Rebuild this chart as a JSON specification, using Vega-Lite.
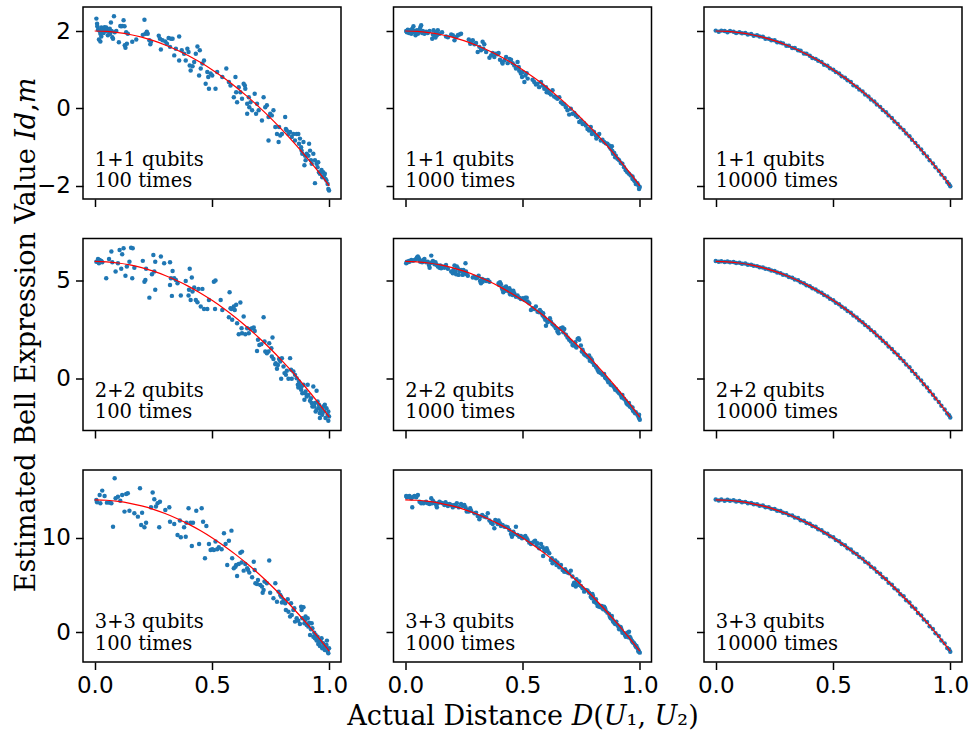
{
"$schema": "https://vega.github.io/schema/vega-lite/v6.json",
"background": "white",
"padding": {"left": 12, "top": 6, "right": 6, "bottom": 4},
"config": {
  "view": {"stroke": "black", "strokeWidth": 1.5},
  "axis": {"domain": false, "grid": false, "tickColor": "black", "tickSize": 7.5, "tickWidth": 1.5, "labelFont": "DejaVu Sans", "labelFontSize": 23, "labelColor": "black", "labelPadding": 5, "titleFont": "DejaVu Serif", "titleFontSize": 27, "titleFontWeight": "normal", "titleColor": "black"}
},
"datasets": {
"fit1": [{"x":0,"y":2},{"x":0.05,"y":1.99},{"x":0.1,"y":1.96},{"x":0.15,"y":1.91},{"x":0.2,"y":1.84},{"x":0.25,"y":1.75},{"x":0.3,"y":1.64},{"x":0.35,"y":1.51},{"x":0.4,"y":1.36},{"x":0.45,"y":1.19},{"x":0.5,"y":1.0},{"x":0.55,"y":0.79},{"x":0.6,"y":0.56},{"x":0.65,"y":0.31},{"x":0.7,"y":0.04},{"x":0.75,"y":-0.25},{"x":0.8,"y":-0.56},{"x":0.85,"y":-0.89},{"x":0.9,"y":-1.24},{"x":0.95,"y":-1.61},{"x":1,"y":-2}],
"fit2": [{"x":0,"y":6},{"x":0.05,"y":5.98},{"x":0.1,"y":5.92},{"x":0.15,"y":5.82},{"x":0.2,"y":5.68},{"x":0.25,"y":5.5},{"x":0.3,"y":5.28},{"x":0.35,"y":5.02},{"x":0.4,"y":4.72},{"x":0.45,"y":4.38},{"x":0.5,"y":4.0},{"x":0.55,"y":3.58},{"x":0.6,"y":3.12},{"x":0.65,"y":2.62},{"x":0.7,"y":2.08},{"x":0.75,"y":1.5},{"x":0.8,"y":0.88},{"x":0.85,"y":0.22},{"x":0.9,"y":-0.48},{"x":0.95,"y":-1.22},{"x":1,"y":-2}],
"fit3": [{"x":0,"y":14},{"x":0.05,"y":13.96},{"x":0.1,"y":13.84},{"x":0.15,"y":13.64},{"x":0.2,"y":13.36},{"x":0.25,"y":13},{"x":0.3,"y":12.56},{"x":0.35,"y":12.04},{"x":0.4,"y":11.44},{"x":0.45,"y":10.76},{"x":0.5,"y":10},{"x":0.55,"y":9.16},{"x":0.6,"y":8.24},{"x":0.65,"y":7.24},{"x":0.7,"y":6.16},{"x":0.75,"y":5},{"x":0.8,"y":3.76},{"x":0.85,"y":2.44},{"x":0.9,"y":1.04},{"x":0.95,"y":-0.44},{"x":1,"y":-2}],
"r1c1": [{"x":0.007,"y":2.32},{"x":0.010,"y":2.19},{"x":0.011,"y":2.12},{"x":0.014,"y":2.03},{"x":0.021,"y":2.00},{"x":0.024,"y":1.93},{"x":0.028,"y":2.09},{"x":0.032,"y":2.05},{"x":0.035,"y":2.02},{"x":0.038,"y":1.95},{"x":0.018,"y":1.78},{"x":0.024,"y":1.73},{"x":0.028,"y":1.86},{"x":0.042,"y":2.10},{"x":0.047,"y":2.00},{"x":0.049,"y":2.09},{"x":0.052,"y":2.03},{"x":0.056,"y":1.89},{"x":0.061,"y":1.99},{"x":0.064,"y":2.06},{"x":0.066,"y":1.93},{"x":0.069,"y":2.22},{"x":0.072,"y":2.00},{"x":0.075,"y":1.84},{"x":0.078,"y":1.80},{"x":0.082,"y":2.38},{"x":0.085,"y":1.97},{"x":0.092,"y":2.00},{"x":0.103,"y":1.71},{"x":0.109,"y":2.13},{"x":0.113,"y":2.12},{"x":0.117,"y":2.13},{"x":0.123,"y":2.28},{"x":0.127,"y":2.12},{"x":0.128,"y":1.63},{"x":0.131,"y":1.57},{"x":0.137,"y":1.67},{"x":0.134,"y":1.97},{"x":0.141,"y":1.93},{"x":0.160,"y":1.72},{"x":0.177,"y":1.78},{"x":0.205,"y":1.90},{"x":0.212,"y":2.29},{"x":0.216,"y":1.93},{"x":0.222,"y":1.98},{"x":0.226,"y":1.93},{"x":0.233,"y":1.76},{"x":0.237,"y":1.66},{"x":0.240,"y":1.72},{"x":0.273,"y":1.88},{"x":0.278,"y":1.80},{"x":0.282,"y":1.52},{"x":0.289,"y":1.76},{"x":0.301,"y":1.73},{"x":0.308,"y":1.67},{"x":0.315,"y":1.82},{"x":0.321,"y":1.59},{"x":0.325,"y":1.80},{"x":0.332,"y":1.80},{"x":0.339,"y":1.37},{"x":0.346,"y":1.54},{"x":0.360,"y":1.86},{"x":0.360,"y":1.24},{"x":0.371,"y":1.50},{"x":0.381,"y":1.41},{"x":0.388,"y":1.24},{"x":0.395,"y":1.54},{"x":0.400,"y":1.46},{"x":0.405,"y":1.11},{"x":0.409,"y":0.98},{"x":0.417,"y":1.09},{"x":0.424,"y":1.20},{"x":0.431,"y":1.41},{"x":0.438,"y":1.60},{"x":0.445,"y":0.85},{"x":0.448,"y":1.50},{"x":0.452,"y":1.03},{"x":0.459,"y":1.16},{"x":0.466,"y":1.24},{"x":0.473,"y":0.64},{"x":0.480,"y":0.94},{"x":0.484,"y":0.81},{"x":0.487,"y":0.51},{"x":0.494,"y":0.90},{"x":0.501,"y":0.85},{"x":0.515,"y":0.51},{"x":0.522,"y":0.94},{"x":0.544,"y":0.81},{"x":0.561,"y":1.03},{"x":0.572,"y":0.68},{"x":0.579,"y":0.59},{"x":0.593,"y":0.29},{"x":0.600,"y":0.81},{"x":0.603,"y":0.42},{"x":0.607,"y":0.16},{"x":0.614,"y":0.55},{"x":0.621,"y":0.42},{"x":0.628,"y":0.25},{"x":0.635,"y":0.64},{"x":0.640,"y":0.59},{"x":0.642,"y":0.51},{"x":0.650,"y":0.12},{"x":0.650,"y":-0.14},{"x":0.657,"y":0.29},{"x":0.659,"y":0.03},{"x":0.664,"y":0.16},{"x":0.671,"y":-0.05},{"x":0.682,"y":0.38},{"x":0.688,"y":-0.14},{"x":0.692,"y":0.12},{"x":0.699,"y":-0.05},{"x":0.713,"y":-0.31},{"x":0.720,"y":0.29},{"x":0.727,"y":0.03},{"x":0.734,"y":0.08},{"x":0.741,"y":-0.22},{"x":0.741,"y":-0.83},{"x":0.748,"y":-0.14},{"x":0.755,"y":-0.18},{"x":0.762,"y":-0.05},{"x":0.770,"y":-0.48},{"x":0.777,"y":-0.66},{"x":0.784,"y":-0.87},{"x":0.786,"y":-0.48},{"x":0.791,"y":-0.70},{"x":0.798,"y":-0.66},{"x":0.812,"y":-0.22},{"x":0.815,"y":-0.53},{"x":0.819,"y":-0.57},{"x":0.826,"y":-0.66},{"x":0.833,"y":-0.61},{"x":0.840,"y":-0.74},{"x":0.847,"y":-0.66},{"x":0.854,"y":-0.83},{"x":0.861,"y":-0.66},{"x":0.868,"y":-0.66},{"x":0.871,"y":-0.91},{"x":0.875,"y":-0.78},{"x":0.880,"y":-1.00},{"x":0.882,"y":-1.09},{"x":0.885,"y":-1.17},{"x":0.890,"y":-0.87},{"x":0.894,"y":-1.47},{"x":0.897,"y":-1.22},{"x":0.899,"y":-1.34},{"x":0.904,"y":-1.17},{"x":0.911,"y":-1.22},{"x":0.914,"y":-0.91},{"x":0.918,"y":-1.09},{"x":0.922,"y":-1.34},{"x":0.925,"y":-1.43},{"x":0.932,"y":-1.17},{"x":0.939,"y":-1.34},{"x":0.946,"y":-1.43},{"x":0.950,"y":-1.52},{"x":0.953,"y":-1.39},{"x":0.956,"y":-1.65},{"x":0.960,"y":-1.69},{"x":0.967,"y":-1.59},{"x":0.970,"y":-1.78},{"x":0.974,"y":-1.65},{"x":0.978,"y":-1.73},{"x":0.981,"y":-1.69},{"x":0.984,"y":-1.82},{"x":0.988,"y":-1.86},{"x":0.993,"y":-1.95},{"x":0.996,"y":-2.08},{"x":0.999,"y":-2.12},{"x":0.939,"y":-1.93}],
"r2c1": [{"x":0.007,"y":5.99},{"x":0.014,"y":6.13},{"x":0.018,"y":5.91},{"x":0.021,"y":6.08},{"x":0.024,"y":5.99},{"x":0.028,"y":6.03},{"x":0.032,"y":5.96},{"x":0.049,"y":5.14},{"x":0.061,"y":6.13},{"x":0.071,"y":6.51},{"x":0.075,"y":5.96},{"x":0.089,"y":5.48},{"x":0.099,"y":5.91},{"x":0.106,"y":6.59},{"x":0.113,"y":5.62},{"x":0.117,"y":6.37},{"x":0.123,"y":6.68},{"x":0.131,"y":5.27},{"x":0.137,"y":5.74},{"x":0.148,"y":5.99},{"x":0.155,"y":6.71},{"x":0.160,"y":5.14},{"x":0.162,"y":6.68},{"x":0.169,"y":5.68},{"x":0.205,"y":6.03},{"x":0.212,"y":4.96},{"x":0.216,"y":5.05},{"x":0.219,"y":5.62},{"x":0.233,"y":4.14},{"x":0.244,"y":5.34},{"x":0.250,"y":6.33},{"x":0.254,"y":5.48},{"x":0.258,"y":5.99},{"x":0.258,"y":4.54},{"x":0.282,"y":6.25},{"x":0.296,"y":5.91},{"x":0.321,"y":5.96},{"x":0.321,"y":4.79},{"x":0.325,"y":5.14},{"x":0.329,"y":4.23},{"x":0.332,"y":5.51},{"x":0.339,"y":5.14},{"x":0.346,"y":5.05},{"x":0.353,"y":4.88},{"x":0.367,"y":4.25},{"x":0.388,"y":5.00},{"x":0.400,"y":4.25},{"x":0.402,"y":4.54},{"x":0.405,"y":5.62},{"x":0.409,"y":4.02},{"x":0.414,"y":5.17},{"x":0.417,"y":4.45},{"x":0.424,"y":4.66},{"x":0.431,"y":4.02},{"x":0.438,"y":3.90},{"x":0.442,"y":4.59},{"x":0.452,"y":3.68},{"x":0.459,"y":4.59},{"x":0.466,"y":3.56},{"x":0.480,"y":3.56},{"x":0.487,"y":4.02},{"x":0.508,"y":4.96},{"x":0.513,"y":3.56},{"x":0.515,"y":5.02},{"x":0.537,"y":4.02},{"x":0.544,"y":3.51},{"x":0.572,"y":3.13},{"x":0.575,"y":4.42},{"x":0.579,"y":3.60},{"x":0.583,"y":3.56},{"x":0.586,"y":3.00},{"x":0.593,"y":3.68},{"x":0.597,"y":3.51},{"x":0.603,"y":3.77},{"x":0.607,"y":2.82},{"x":0.614,"y":2.26},{"x":0.621,"y":3.89},{"x":0.626,"y":2.57},{"x":0.628,"y":2.31},{"x":0.635,"y":3.17},{"x":0.642,"y":2.26},{"x":0.650,"y":2.57},{"x":0.657,"y":2.31},{"x":0.664,"y":2.53},{"x":0.671,"y":2.57},{"x":0.678,"y":2.60},{"x":0.682,"y":2.43},{"x":0.692,"y":1.40},{"x":0.696,"y":1.97},{"x":0.702,"y":1.71},{"x":0.710,"y":1.75},{"x":0.720,"y":3.13},{"x":0.724,"y":1.88},{"x":0.727,"y":1.37},{"x":0.734,"y":1.28},{"x":0.741,"y":1.37},{"x":0.744,"y":1.80},{"x":0.753,"y":1.54},{"x":0.755,"y":1.11},{"x":0.758,"y":2.09},{"x":0.762,"y":0.99},{"x":0.770,"y":0.72},{"x":0.772,"y":0.77},{"x":0.777,"y":0.48},{"x":0.781,"y":0.68},{"x":0.786,"y":0.99},{"x":0.791,"y":0.86},{"x":0.795,"y":-0.03},{"x":0.798,"y":1.03},{"x":0.805,"y":0.60},{"x":0.809,"y":0.26},{"x":0.815,"y":0.17},{"x":0.819,"y":0.38},{"x":0.826,"y":-0.03},{"x":0.833,"y":1.03},{"x":0.837,"y":0.43},{"x":0.840,"y":-0.03},{"x":0.847,"y":0.34},{"x":0.854,"y":0.17},{"x":0.861,"y":0.00},{"x":0.866,"y":-0.34},{"x":0.868,"y":-0.48},{"x":0.871,"y":-0.17},{"x":0.875,"y":-0.34},{"x":0.880,"y":-0.60},{"x":0.882,"y":-0.43},{"x":0.885,"y":-0.77},{"x":0.890,"y":-0.34},{"x":0.894,"y":-1.11},{"x":0.897,"y":-0.77},{"x":0.899,"y":-0.68},{"x":0.904,"y":-0.94},{"x":0.908,"y":-0.34},{"x":0.911,"y":-0.86},{"x":0.918,"y":-1.16},{"x":0.922,"y":-1.03},{"x":0.925,"y":-1.28},{"x":0.928,"y":-1.46},{"x":0.932,"y":-0.43},{"x":0.936,"y":-1.46},{"x":0.939,"y":-1.28},{"x":0.942,"y":-1.71},{"x":0.946,"y":-0.65},{"x":0.950,"y":-1.20},{"x":0.953,"y":-1.54},{"x":0.956,"y":-1.37},{"x":0.960,"y":-1.80},{"x":0.964,"y":-1.71},{"x":0.967,"y":-1.54},{"x":0.970,"y":-1.88},{"x":0.974,"y":-1.46},{"x":0.978,"y":-1.71},{"x":0.981,"y":-1.37},{"x":0.984,"y":-2.05},{"x":0.988,"y":-1.54},{"x":0.993,"y":-1.88},{"x":0.996,"y":-2.19},{"x":0.999,"y":-1.97},{"x":0.946,"y":-1.63},{"x":0.960,"y":-2.05},{"x":0.996,"y":-1.71}],
"r3c1": [{"x":0.007,"y":13.99},{"x":0.010,"y":13.74},{"x":0.021,"y":14.52},{"x":0.024,"y":13.64},{"x":0.032,"y":14.98},{"x":0.042,"y":14.41},{"x":0.052,"y":13.71},{"x":0.064,"y":13.71},{"x":0.071,"y":13.64},{"x":0.078,"y":11.17},{"x":0.085,"y":16.28},{"x":0.089,"y":14.17},{"x":0.099,"y":14.34},{"x":0.109,"y":13.92},{"x":0.117,"y":14.52},{"x":0.127,"y":12.76},{"x":0.134,"y":14.62},{"x":0.141,"y":14.70},{"x":0.148,"y":12.86},{"x":0.169,"y":12.58},{"x":0.184,"y":12.23},{"x":0.193,"y":15.22},{"x":0.198,"y":11.35},{"x":0.202,"y":12.65},{"x":0.212,"y":11.10},{"x":0.219,"y":11.59},{"x":0.240,"y":13.22},{"x":0.247,"y":14.77},{"x":0.254,"y":14.06},{"x":0.261,"y":13.29},{"x":0.268,"y":13.64},{"x":0.275,"y":11.10},{"x":0.278,"y":13.81},{"x":0.301,"y":12.93},{"x":0.318,"y":13.22},{"x":0.321,"y":11.70},{"x":0.339,"y":11.45},{"x":0.353,"y":10.29},{"x":0.363,"y":11.81},{"x":0.367,"y":10.04},{"x":0.381,"y":11.10},{"x":0.388,"y":10.11},{"x":0.391,"y":11.59},{"x":0.400,"y":13.11},{"x":0.409,"y":11.59},{"x":0.414,"y":9.13},{"x":0.419,"y":11.59},{"x":0.433,"y":12.86},{"x":0.445,"y":9.34},{"x":0.456,"y":13.11},{"x":0.462,"y":11.70},{"x":0.470,"y":7.82},{"x":0.476,"y":11.24},{"x":0.487,"y":9.34},{"x":0.494,"y":8.70},{"x":0.501,"y":8.77},{"x":0.508,"y":8.70},{"x":0.515,"y":9.59},{"x":0.522,"y":8.77},{"x":0.529,"y":8.99},{"x":0.541,"y":8.77},{"x":0.551,"y":10.47},{"x":0.558,"y":9.34},{"x":0.565,"y":7.12},{"x":0.572,"y":9.69},{"x":0.583,"y":10.75},{"x":0.586,"y":7.82},{"x":0.593,"y":6.77},{"x":0.600,"y":6.94},{"x":0.603,"y":7.12},{"x":0.607,"y":5.96},{"x":0.614,"y":7.22},{"x":0.621,"y":8.42},{"x":0.626,"y":7.37},{"x":0.628,"y":8.53},{"x":0.635,"y":6.52},{"x":0.642,"y":7.22},{"x":0.650,"y":6.77},{"x":0.654,"y":6.59},{"x":0.659,"y":6.31},{"x":0.671,"y":5.81},{"x":0.678,"y":7.47},{"x":0.682,"y":6.59},{"x":0.685,"y":5.18},{"x":0.692,"y":5.11},{"x":0.696,"y":5.53},{"x":0.706,"y":5.00},{"x":0.713,"y":4.83},{"x":0.716,"y":4.19},{"x":0.720,"y":4.48},{"x":0.724,"y":5.36},{"x":0.734,"y":5.18},{"x":0.744,"y":7.58},{"x":0.748,"y":4.19},{"x":0.762,"y":3.59},{"x":0.770,"y":5.18},{"x":0.777,"y":3.24},{"x":0.784,"y":4.30},{"x":0.791,"y":3.95},{"x":0.795,"y":3.77},{"x":0.798,"y":3.14},{"x":0.805,"y":3.42},{"x":0.812,"y":3.07},{"x":0.815,"y":2.36},{"x":0.823,"y":3.49},{"x":0.826,"y":2.18},{"x":0.833,"y":1.66},{"x":0.837,"y":3.07},{"x":0.840,"y":1.83},{"x":0.847,"y":2.36},{"x":0.851,"y":2.54},{"x":0.854,"y":1.13},{"x":0.861,"y":1.48},{"x":0.868,"y":1.23},{"x":0.875,"y":0.88},{"x":0.880,"y":2.71},{"x":0.882,"y":2.36},{"x":0.885,"y":1.48},{"x":0.890,"y":2.64},{"x":0.894,"y":0.95},{"x":0.897,"y":1.30},{"x":0.899,"y":1.66},{"x":0.904,"y":0.78},{"x":0.908,"y":1.48},{"x":0.911,"y":0.60},{"x":0.914,"y":1.02},{"x":0.918,"y":-0.28},{"x":0.922,"y":0.32},{"x":0.925,"y":0.95},{"x":0.928,"y":0.42},{"x":0.932,"y":-0.46},{"x":0.936,"y":-0.04},{"x":0.939,"y":-0.63},{"x":0.942,"y":-0.28},{"x":0.946,"y":-0.88},{"x":0.950,"y":-0.46},{"x":0.953,"y":-1.23},{"x":0.956,"y":-0.81},{"x":0.960,"y":-1.44},{"x":0.964,"y":-0.99},{"x":0.967,"y":-0.63},{"x":0.970,"y":-1.69},{"x":0.974,"y":-1.16},{"x":0.978,"y":-1.34},{"x":0.981,"y":-1.87},{"x":0.984,"y":-1.52},{"x":0.988,"y":-1.34},{"x":0.993,"y":-2.04},{"x":0.996,"y":-2.22},{"x":0.999,"y":-1.69},{"x":0.990,"y":-0.88}],
"r1c2": [{"x":0.004,"y":2.00},{"x":0.007,"y":1.97},{"x":0.011,"y":2.03},{"x":0.016,"y":1.95},{"x":0.018,"y":2.00},{"x":0.021,"y":2.02},{"x":0.026,"y":1.93},{"x":0.030,"y":2.06},{"x":0.033,"y":1.97},{"x":0.035,"y":2.12},{"x":0.040,"y":2.00},{"x":0.044,"y":1.89},{"x":0.047,"y":1.95},{"x":0.050,"y":2.02},{"x":0.054,"y":1.93},{"x":0.058,"y":1.97},{"x":0.061,"y":2.03},{"x":0.064,"y":2.09},{"x":0.068,"y":2.15},{"x":0.072,"y":1.95},{"x":0.075,"y":2.00},{"x":0.082,"y":1.93},{"x":0.089,"y":1.98},{"x":0.096,"y":1.95},{"x":0.104,"y":2.00},{"x":0.115,"y":1.80},{"x":0.118,"y":1.91},{"x":0.121,"y":2.02},{"x":0.125,"y":1.86},{"x":0.129,"y":1.83},{"x":0.132,"y":1.97},{"x":0.135,"y":1.89},{"x":0.139,"y":2.02},{"x":0.146,"y":1.93},{"x":0.157,"y":1.97},{"x":0.174,"y":1.86},{"x":0.182,"y":1.84},{"x":0.196,"y":1.91},{"x":0.203,"y":1.89},{"x":0.210,"y":1.76},{"x":0.217,"y":1.84},{"x":0.224,"y":1.89},{"x":0.231,"y":1.91},{"x":0.238,"y":1.93},{"x":0.271,"y":1.78},{"x":0.277,"y":1.67},{"x":0.281,"y":1.72},{"x":0.288,"y":1.76},{"x":0.295,"y":1.66},{"x":0.302,"y":1.69},{"x":0.309,"y":1.46},{"x":0.316,"y":1.59},{"x":0.323,"y":1.50},{"x":0.330,"y":1.72},{"x":0.333,"y":1.54},{"x":0.337,"y":1.66},{"x":0.345,"y":1.46},{"x":0.359,"y":1.31},{"x":0.366,"y":1.37},{"x":0.373,"y":1.43},{"x":0.380,"y":1.33},{"x":0.387,"y":1.41},{"x":0.394,"y":1.40},{"x":0.398,"y":1.43},{"x":0.404,"y":1.26},{"x":0.413,"y":1.20},{"x":0.415,"y":1.16},{"x":0.423,"y":1.24},{"x":0.430,"y":1.33},{"x":0.437,"y":1.17},{"x":0.444,"y":1.28},{"x":0.451,"y":1.26},{"x":0.458,"y":1.17},{"x":0.465,"y":1.11},{"x":0.472,"y":1.03},{"x":0.479,"y":1.20},{"x":0.484,"y":1.07},{"x":0.486,"y":0.97},{"x":0.493,"y":0.90},{"x":0.498,"y":0.81},{"x":0.501,"y":0.94},{"x":0.508,"y":0.68},{"x":0.512,"y":0.85},{"x":0.518,"y":0.91},{"x":0.522,"y":0.77},{"x":0.543,"y":0.74},{"x":0.550,"y":0.68},{"x":0.557,"y":0.62},{"x":0.564,"y":0.64},{"x":0.571,"y":0.55},{"x":0.579,"y":0.68},{"x":0.586,"y":0.59},{"x":0.593,"y":0.51},{"x":0.600,"y":0.55},{"x":0.603,"y":0.42},{"x":0.607,"y":0.47},{"x":0.614,"y":0.40},{"x":0.621,"y":0.36},{"x":0.628,"y":0.47},{"x":0.635,"y":0.31},{"x":0.642,"y":0.28},{"x":0.649,"y":0.25},{"x":0.657,"y":0.29},{"x":0.664,"y":0.16},{"x":0.671,"y":0.12},{"x":0.678,"y":0.10},{"x":0.685,"y":0.03},{"x":0.692,"y":-0.05},{"x":0.699,"y":-0.16},{"x":0.706,"y":-0.01},{"x":0.713,"y":-0.14},{"x":0.721,"y":-0.12},{"x":0.727,"y":-0.18},{"x":0.735,"y":-0.22},{"x":0.742,"y":-0.35},{"x":0.749,"y":-0.31},{"x":0.756,"y":-0.40},{"x":0.763,"y":-0.38},{"x":0.770,"y":-0.44},{"x":0.777,"y":-0.53},{"x":0.784,"y":-0.57},{"x":0.791,"y":-0.48},{"x":0.796,"y":-0.66},{"x":0.798,"y":-0.59},{"x":0.805,"y":-0.61},{"x":0.813,"y":-0.70},{"x":0.815,"y":-0.78},{"x":0.820,"y":-0.74},{"x":0.827,"y":-0.66},{"x":0.834,"y":-0.83},{"x":0.841,"y":-0.81},{"x":0.848,"y":-0.87},{"x":0.855,"y":-0.90},{"x":0.862,"y":-0.91},{"x":0.869,"y":-0.96},{"x":0.872,"y":-1.00},{"x":0.876,"y":-1.04},{"x":0.881,"y":-0.98},{"x":0.883,"y":-1.10},{"x":0.886,"y":-1.17},{"x":0.891,"y":-1.15},{"x":0.895,"y":-1.26},{"x":0.898,"y":-1.22},{"x":0.905,"y":-1.30},{"x":0.912,"y":-1.34},{"x":0.919,"y":-1.41},{"x":0.926,"y":-1.43},{"x":0.933,"y":-1.52},{"x":0.940,"y":-1.60},{"x":0.947,"y":-1.65},{"x":0.954,"y":-1.69},{"x":0.961,"y":-1.73},{"x":0.969,"y":-1.76},{"x":0.971,"y":-1.82},{"x":0.976,"y":-1.86},{"x":0.980,"y":-1.88},{"x":0.983,"y":-1.95},{"x":0.990,"y":-1.93},{"x":0.994,"y":-1.99},{"x":0.997,"y":-2.08},{"x":1.000,"y":-2.03},{"x":0.969,"y":-1.82}],
"r2c2": [{"x":0.004,"y":5.91},{"x":0.007,"y":5.99},{"x":0.011,"y":5.96},{"x":0.016,"y":6.03},{"x":0.018,"y":5.99},{"x":0.026,"y":6.08},{"x":0.033,"y":6.03},{"x":0.040,"y":6.08},{"x":0.047,"y":6.13},{"x":0.050,"y":6.20},{"x":0.054,"y":6.25},{"x":0.058,"y":6.16},{"x":0.061,"y":6.08},{"x":0.064,"y":5.99},{"x":0.068,"y":6.03},{"x":0.072,"y":5.96},{"x":0.078,"y":6.08},{"x":0.082,"y":6.13},{"x":0.089,"y":5.96},{"x":0.096,"y":5.99},{"x":0.101,"y":5.82},{"x":0.104,"y":5.68},{"x":0.106,"y":5.91},{"x":0.111,"y":6.30},{"x":0.115,"y":5.96},{"x":0.118,"y":6.03},{"x":0.125,"y":5.86},{"x":0.129,"y":5.96},{"x":0.135,"y":5.82},{"x":0.139,"y":5.74},{"x":0.146,"y":5.68},{"x":0.149,"y":5.79},{"x":0.153,"y":5.65},{"x":0.160,"y":5.74},{"x":0.167,"y":5.68},{"x":0.174,"y":5.82},{"x":0.182,"y":5.62},{"x":0.196,"y":5.48},{"x":0.203,"y":5.39},{"x":0.206,"y":5.56},{"x":0.210,"y":5.79},{"x":0.214,"y":5.48},{"x":0.217,"y":5.34},{"x":0.220,"y":5.74},{"x":0.224,"y":5.65},{"x":0.228,"y":5.31},{"x":0.231,"y":5.51},{"x":0.238,"y":5.56},{"x":0.242,"y":5.48},{"x":0.245,"y":5.31},{"x":0.248,"y":5.56},{"x":0.252,"y":5.39},{"x":0.257,"y":5.91},{"x":0.259,"y":5.48},{"x":0.262,"y":5.34},{"x":0.267,"y":5.27},{"x":0.288,"y":5.17},{"x":0.295,"y":5.22},{"x":0.302,"y":5.14},{"x":0.309,"y":5.17},{"x":0.313,"y":5.27},{"x":0.319,"y":5.00},{"x":0.323,"y":4.88},{"x":0.328,"y":5.10},{"x":0.330,"y":4.96},{"x":0.337,"y":5.05},{"x":0.345,"y":5.00},{"x":0.352,"y":5.05},{"x":0.359,"y":4.96},{"x":0.398,"y":4.88},{"x":0.401,"y":4.79},{"x":0.404,"y":4.93},{"x":0.408,"y":4.83},{"x":0.413,"y":4.62},{"x":0.415,"y":4.54},{"x":0.418,"y":4.42},{"x":0.423,"y":4.66},{"x":0.427,"y":4.49},{"x":0.430,"y":4.71},{"x":0.437,"y":4.59},{"x":0.441,"y":4.45},{"x":0.444,"y":4.62},{"x":0.447,"y":4.31},{"x":0.451,"y":4.49},{"x":0.455,"y":4.37},{"x":0.458,"y":4.28},{"x":0.461,"y":4.49},{"x":0.465,"y":4.37},{"x":0.472,"y":4.19},{"x":0.479,"y":4.25},{"x":0.486,"y":4.14},{"x":0.493,"y":4.07},{"x":0.501,"y":4.11},{"x":0.508,"y":4.02},{"x":0.512,"y":4.14},{"x":0.518,"y":4.14},{"x":0.522,"y":3.94},{"x":0.529,"y":3.85},{"x":0.536,"y":3.51},{"x":0.543,"y":3.60},{"x":0.550,"y":3.56},{"x":0.557,"y":3.68},{"x":0.564,"y":3.42},{"x":0.571,"y":3.39},{"x":0.574,"y":3.51},{"x":0.579,"y":3.42},{"x":0.583,"y":3.34},{"x":0.586,"y":3.22},{"x":0.588,"y":3.34},{"x":0.593,"y":3.12},{"x":0.597,"y":3.00},{"x":0.600,"y":2.70},{"x":0.607,"y":2.88},{"x":0.614,"y":2.94},{"x":0.617,"y":3.08},{"x":0.621,"y":2.91},{"x":0.628,"y":2.77},{"x":0.635,"y":2.70},{"x":0.642,"y":2.57},{"x":0.649,"y":2.40},{"x":0.654,"y":2.31},{"x":0.657,"y":2.53},{"x":0.664,"y":2.57},{"x":0.671,"y":2.60},{"x":0.674,"y":2.36},{"x":0.678,"y":2.53},{"x":0.685,"y":2.23},{"x":0.692,"y":2.09},{"x":0.699,"y":1.97},{"x":0.706,"y":1.88},{"x":0.713,"y":1.71},{"x":0.716,"y":1.68},{"x":0.721,"y":1.75},{"x":0.725,"y":1.85},{"x":0.727,"y":1.63},{"x":0.730,"y":1.58},{"x":0.735,"y":2.02},{"x":0.739,"y":2.05},{"x":0.742,"y":1.97},{"x":0.749,"y":1.68},{"x":0.753,"y":1.37},{"x":0.756,"y":1.46},{"x":0.759,"y":1.34},{"x":0.763,"y":1.23},{"x":0.767,"y":1.20},{"x":0.770,"y":1.16},{"x":0.777,"y":1.11},{"x":0.781,"y":1.06},{"x":0.784,"y":1.16},{"x":0.787,"y":0.89},{"x":0.791,"y":1.03},{"x":0.796,"y":0.94},{"x":0.798,"y":0.82},{"x":0.805,"y":0.68},{"x":0.813,"y":0.60},{"x":0.815,"y":0.55},{"x":0.820,"y":0.43},{"x":0.824,"y":0.34},{"x":0.827,"y":0.31},{"x":0.834,"y":0.26},{"x":0.841,"y":0.17},{"x":0.848,"y":0.21},{"x":0.852,"y":0.03},{"x":0.855,"y":0.00},{"x":0.862,"y":-0.09},{"x":0.866,"y":-0.21},{"x":0.869,"y":-0.17},{"x":0.876,"y":-0.34},{"x":0.883,"y":-0.38},{"x":0.891,"y":-0.48},{"x":0.895,"y":-0.60},{"x":0.898,"y":-0.55},{"x":0.905,"y":-0.68},{"x":0.912,"y":-0.77},{"x":0.919,"y":-0.86},{"x":0.923,"y":-0.99},{"x":0.926,"y":-0.86},{"x":0.933,"y":-1.06},{"x":0.940,"y":-1.16},{"x":0.943,"y":-1.28},{"x":0.947,"y":-1.34},{"x":0.951,"y":-1.37},{"x":0.954,"y":-1.28},{"x":0.957,"y":-1.46},{"x":0.961,"y":-1.46},{"x":0.966,"y":-1.54},{"x":0.969,"y":-1.51},{"x":0.971,"y":-1.68},{"x":0.976,"y":-1.71},{"x":0.980,"y":-1.80},{"x":0.983,"y":-1.75},{"x":0.990,"y":-1.88},{"x":0.994,"y":-1.97},{"x":0.997,"y":-2.05},{"x":1.000,"y":-2.14},{"x":0.997,"y":-1.88}],
"r3c2": [{"x":0.004,"y":14.41},{"x":0.007,"y":14.27},{"x":0.011,"y":14.34},{"x":0.018,"y":14.41},{"x":0.021,"y":14.27},{"x":0.026,"y":14.17},{"x":0.030,"y":13.22},{"x":0.035,"y":14.34},{"x":0.040,"y":14.41},{"x":0.047,"y":14.27},{"x":0.054,"y":14.52},{"x":0.061,"y":13.81},{"x":0.068,"y":13.64},{"x":0.072,"y":13.71},{"x":0.078,"y":13.64},{"x":0.082,"y":13.71},{"x":0.089,"y":13.81},{"x":0.096,"y":13.64},{"x":0.104,"y":13.57},{"x":0.111,"y":14.17},{"x":0.115,"y":13.64},{"x":0.118,"y":13.92},{"x":0.125,"y":13.71},{"x":0.132,"y":13.46},{"x":0.135,"y":13.22},{"x":0.139,"y":13.64},{"x":0.146,"y":13.81},{"x":0.153,"y":13.71},{"x":0.160,"y":13.64},{"x":0.167,"y":13.46},{"x":0.172,"y":13.74},{"x":0.177,"y":13.57},{"x":0.182,"y":13.36},{"x":0.189,"y":13.57},{"x":0.196,"y":13.46},{"x":0.203,"y":13.22},{"x":0.210,"y":13.46},{"x":0.214,"y":13.36},{"x":0.220,"y":13.64},{"x":0.228,"y":13.22},{"x":0.238,"y":13.57},{"x":0.245,"y":13.36},{"x":0.252,"y":13.46},{"x":0.257,"y":13.22},{"x":0.262,"y":12.76},{"x":0.267,"y":12.93},{"x":0.271,"y":12.76},{"x":0.277,"y":13.11},{"x":0.281,"y":12.86},{"x":0.295,"y":12.58},{"x":0.302,"y":12.65},{"x":0.309,"y":12.30},{"x":0.316,"y":11.95},{"x":0.319,"y":12.23},{"x":0.328,"y":12.40},{"x":0.337,"y":12.23},{"x":0.345,"y":12.16},{"x":0.352,"y":12.58},{"x":0.359,"y":11.81},{"x":0.366,"y":11.59},{"x":0.373,"y":11.45},{"x":0.380,"y":10.99},{"x":0.384,"y":11.88},{"x":0.390,"y":11.70},{"x":0.394,"y":11.45},{"x":0.398,"y":11.81},{"x":0.404,"y":11.52},{"x":0.408,"y":11.24},{"x":0.415,"y":11.35},{"x":0.423,"y":11.17},{"x":0.430,"y":11.17},{"x":0.437,"y":11.10},{"x":0.444,"y":10.82},{"x":0.451,"y":10.40},{"x":0.455,"y":10.11},{"x":0.461,"y":10.64},{"x":0.465,"y":10.40},{"x":0.472,"y":11.17},{"x":0.479,"y":10.29},{"x":0.486,"y":10.11},{"x":0.493,"y":10.18},{"x":0.498,"y":9.94},{"x":0.503,"y":10.04},{"x":0.512,"y":10.18},{"x":0.518,"y":9.94},{"x":0.522,"y":9.76},{"x":0.529,"y":9.48},{"x":0.536,"y":9.34},{"x":0.543,"y":9.48},{"x":0.550,"y":9.59},{"x":0.554,"y":9.69},{"x":0.560,"y":9.23},{"x":0.564,"y":9.41},{"x":0.571,"y":8.88},{"x":0.579,"y":9.34},{"x":0.586,"y":8.99},{"x":0.588,"y":8.07},{"x":0.593,"y":8.70},{"x":0.597,"y":8.53},{"x":0.603,"y":8.88},{"x":0.607,"y":8.63},{"x":0.614,"y":8.35},{"x":0.621,"y":7.65},{"x":0.625,"y":7.82},{"x":0.628,"y":7.29},{"x":0.635,"y":7.47},{"x":0.640,"y":7.58},{"x":0.645,"y":7.12},{"x":0.649,"y":7.37},{"x":0.657,"y":6.87},{"x":0.664,"y":7.12},{"x":0.671,"y":6.59},{"x":0.678,"y":6.41},{"x":0.682,"y":6.66},{"x":0.688,"y":6.41},{"x":0.692,"y":6.31},{"x":0.699,"y":6.24},{"x":0.706,"y":6.52},{"x":0.713,"y":5.89},{"x":0.716,"y":5.00},{"x":0.720,"y":5.25},{"x":0.725,"y":5.18},{"x":0.727,"y":4.83},{"x":0.730,"y":5.60},{"x":0.735,"y":5.00},{"x":0.742,"y":5.36},{"x":0.749,"y":4.90},{"x":0.756,"y":4.65},{"x":0.763,"y":4.30},{"x":0.770,"y":4.48},{"x":0.777,"y":4.41},{"x":0.784,"y":4.19},{"x":0.791,"y":3.77},{"x":0.796,"y":3.59},{"x":0.798,"y":4.05},{"x":0.801,"y":3.84},{"x":0.805,"y":3.24},{"x":0.810,"y":3.42},{"x":0.813,"y":3.49},{"x":0.815,"y":3.07},{"x":0.820,"y":2.78},{"x":0.824,"y":2.89},{"x":0.827,"y":2.71},{"x":0.834,"y":2.64},{"x":0.838,"y":2.78},{"x":0.841,"y":2.64},{"x":0.844,"y":2.43},{"x":0.848,"y":2.71},{"x":0.852,"y":2.54},{"x":0.855,"y":2.29},{"x":0.862,"y":2.08},{"x":0.869,"y":1.94},{"x":0.872,"y":1.66},{"x":0.876,"y":1.48},{"x":0.881,"y":1.73},{"x":0.883,"y":1.37},{"x":0.886,"y":1.13},{"x":0.891,"y":1.02},{"x":0.895,"y":0.88},{"x":0.898,"y":0.95},{"x":0.900,"y":1.13},{"x":0.905,"y":0.78},{"x":0.909,"y":0.60},{"x":0.912,"y":0.32},{"x":0.915,"y":0.60},{"x":0.919,"y":0.53},{"x":0.923,"y":0.25},{"x":0.926,"y":-0.04},{"x":0.933,"y":-0.11},{"x":0.937,"y":-0.28},{"x":0.940,"y":-0.46},{"x":0.943,"y":-0.28},{"x":0.947,"y":-0.04},{"x":0.951,"y":-0.53},{"x":0.954,"y":0.07},{"x":0.957,"y":-0.46},{"x":0.961,"y":-0.63},{"x":0.966,"y":-0.88},{"x":0.969,"y":-0.99},{"x":0.971,"y":-1.09},{"x":0.976,"y":-1.16},{"x":0.980,"y":-1.34},{"x":0.983,"y":-1.52},{"x":0.986,"y":-1.44},{"x":0.990,"y":-1.69},{"x":0.994,"y":-1.87},{"x":0.997,"y":-2.04},{"x":1.000,"y":-2.15},{"x":0.994,"y":-2.04}],
"r1c3": [{"x":0.000,"y":2.01},{"x":0.013,"y":1.98},{"x":0.024,"y":2.01},{"x":0.038,"y":2.00},{"x":0.050,"y":1.97},{"x":0.061,"y":2.00},{"x":0.076,"y":1.98},{"x":0.087,"y":1.95},{"x":0.101,"y":1.97},{"x":0.112,"y":1.94},{"x":0.126,"y":1.95},{"x":0.137,"y":1.91},{"x":0.151,"y":1.92},{"x":0.162,"y":1.88},{"x":0.176,"y":1.89},{"x":0.187,"y":1.86},{"x":0.201,"y":1.85},{"x":0.212,"y":1.80},{"x":0.226,"y":1.80},{"x":0.237,"y":1.76},{"x":0.251,"y":1.76},{"x":0.262,"y":1.71},{"x":0.276,"y":1.70},{"x":0.287,"y":1.68},{"x":0.301,"y":1.62},{"x":0.312,"y":1.62},{"x":0.326,"y":1.56},{"x":0.337,"y":1.56},{"x":0.351,"y":1.50},{"x":0.362,"y":1.49},{"x":0.376,"y":1.42},{"x":0.387,"y":1.41},{"x":0.401,"y":1.36},{"x":0.412,"y":1.30},{"x":0.426,"y":1.28},{"x":0.437,"y":1.23},{"x":0.451,"y":1.20},{"x":0.462,"y":1.13},{"x":0.476,"y":1.10},{"x":0.487,"y":1.04},{"x":0.501,"y":1.00},{"x":0.512,"y":0.94},{"x":0.526,"y":0.90},{"x":0.537,"y":0.83},{"x":0.551,"y":0.79},{"x":0.562,"y":0.73},{"x":0.576,"y":0.68},{"x":0.587,"y":0.60},{"x":0.601,"y":0.56},{"x":0.612,"y":0.49},{"x":0.626,"y":0.44},{"x":0.637,"y":0.36},{"x":0.651,"y":0.31},{"x":0.662,"y":0.23},{"x":0.676,"y":0.18},{"x":0.687,"y":0.10},{"x":0.701,"y":0.04},{"x":0.712,"y":-0.04},{"x":0.726,"y":-0.10},{"x":0.737,"y":-0.18},{"x":0.751,"y":-0.25},{"x":0.762,"y":-0.34},{"x":0.776,"y":-0.40},{"x":0.787,"y":-0.49},{"x":0.801,"y":-0.56},{"x":0.812,"y":-0.65},{"x":0.826,"y":-0.72},{"x":0.837,"y":-0.81},{"x":0.851,"y":-0.89},{"x":0.862,"y":-0.98},{"x":0.876,"y":-1.06},{"x":0.887,"y":-1.16},{"x":0.901,"y":-1.24},{"x":0.912,"y":-1.34},{"x":0.926,"y":-1.42},{"x":0.937,"y":-1.52},{"x":0.951,"y":-1.61},{"x":0.962,"y":-1.71},{"x":0.976,"y":-1.80},{"x":0.987,"y":-1.90},{"x":0.995,"y":-1.96},{"x":1.000,"y":-2.01}],
"r2c3": [{"x":0.000,"y":6.02},{"x":0.013,"y":5.98},{"x":0.024,"y":6.01},{"x":0.038,"y":5.97},{"x":0.050,"y":6.00},{"x":0.061,"y":5.96},{"x":0.076,"y":5.97},{"x":0.087,"y":5.92},{"x":0.101,"y":5.93},{"x":0.112,"y":5.88},{"x":0.126,"y":5.89},{"x":0.137,"y":5.83},{"x":0.151,"y":5.83},{"x":0.162,"y":5.78},{"x":0.176,"y":5.76},{"x":0.187,"y":5.70},{"x":0.201,"y":5.69},{"x":0.212,"y":5.62},{"x":0.226,"y":5.60},{"x":0.237,"y":5.53},{"x":0.251,"y":5.51},{"x":0.262,"y":5.43},{"x":0.276,"y":5.40},{"x":0.287,"y":5.32},{"x":0.301,"y":5.29},{"x":0.312,"y":5.20},{"x":0.326,"y":5.16},{"x":0.337,"y":5.07},{"x":0.351,"y":5.03},{"x":0.362,"y":4.93},{"x":0.376,"y":4.88},{"x":0.387,"y":4.78},{"x":0.401,"y":4.73},{"x":0.412,"y":4.62},{"x":0.426,"y":4.56},{"x":0.437,"y":4.45},{"x":0.451,"y":4.39},{"x":0.462,"y":4.27},{"x":0.476,"y":4.20},{"x":0.487,"y":4.08},{"x":0.501,"y":4.00},{"x":0.512,"y":3.88},{"x":0.526,"y":3.80},{"x":0.537,"y":3.67},{"x":0.551,"y":3.58},{"x":0.562,"y":3.45},{"x":0.576,"y":3.36},{"x":0.587,"y":3.22},{"x":0.601,"y":3.12},{"x":0.612,"y":2.98},{"x":0.626,"y":2.88},{"x":0.637,"y":2.73},{"x":0.651,"y":2.62},{"x":0.662,"y":2.47},{"x":0.676,"y":2.36},{"x":0.687,"y":2.20},{"x":0.701,"y":2.08},{"x":0.712,"y":1.92},{"x":0.726,"y":1.80},{"x":0.737,"y":1.63},{"x":0.751,"y":1.50},{"x":0.762,"y":1.33},{"x":0.776,"y":1.20},{"x":0.787,"y":1.02},{"x":0.801,"y":0.88},{"x":0.812,"y":0.70},{"x":0.826,"y":0.56},{"x":0.837,"y":0.37},{"x":0.851,"y":0.22},{"x":0.862,"y":0.03},{"x":0.876,"y":-0.12},{"x":0.887,"y":-0.31},{"x":0.901,"y":-0.48},{"x":0.912,"y":-0.67},{"x":0.926,"y":-0.85},{"x":0.937,"y":-1.04},{"x":0.951,"y":-1.22},{"x":0.962,"y":-1.42},{"x":0.976,"y":-1.61},{"x":0.987,"y":-1.81},{"x":0.995,"y":-1.91},{"x":1.000,"y":-2.02}],
"r3c3": [{"x":0.000,"y":14.05},{"x":0.013,"y":13.94},{"x":0.024,"y":14.04},{"x":0.038,"y":13.92},{"x":0.050,"y":14.01},{"x":0.061,"y":13.90},{"x":0.076,"y":13.95},{"x":0.087,"y":13.83},{"x":0.101,"y":13.88},{"x":0.112,"y":13.76},{"x":0.126,"y":13.79},{"x":0.137,"y":13.65},{"x":0.151,"y":13.68},{"x":0.162,"y":13.53},{"x":0.176,"y":13.55},{"x":0.187,"y":13.39},{"x":0.201,"y":13.40},{"x":0.212,"y":13.23},{"x":0.226,"y":13.23},{"x":0.237,"y":13.05},{"x":0.251,"y":13.04},{"x":0.262,"y":12.85},{"x":0.276,"y":12.83},{"x":0.287,"y":12.63},{"x":0.301,"y":12.60},{"x":0.312,"y":12.39},{"x":0.326,"y":12.35},{"x":0.337,"y":12.13},{"x":0.351,"y":12.08},{"x":0.362,"y":11.85},{"x":0.376,"y":11.79},{"x":0.387,"y":11.55},{"x":0.401,"y":11.48},{"x":0.412,"y":11.23},{"x":0.426,"y":11.15},{"x":0.437,"y":10.89},{"x":0.451,"y":10.80},{"x":0.462,"y":10.53},{"x":0.476,"y":10.43},{"x":0.487,"y":10.15},{"x":0.501,"y":10.04},{"x":0.512,"y":9.75},{"x":0.526,"y":9.63},{"x":0.537,"y":9.33},{"x":0.551,"y":9.20},{"x":0.562,"y":8.89},{"x":0.576,"y":8.75},{"x":0.587,"y":8.43},{"x":0.601,"y":8.28},{"x":0.612,"y":7.95},{"x":0.626,"y":7.79},{"x":0.637,"y":7.45},{"x":0.651,"y":7.28},{"x":0.662,"y":6.93},{"x":0.676,"y":6.75},{"x":0.687,"y":6.39},{"x":0.701,"y":6.20},{"x":0.712,"y":5.83},{"x":0.726,"y":5.63},{"x":0.737,"y":5.25},{"x":0.751,"y":5.04},{"x":0.762,"y":4.65},{"x":0.776,"y":4.43},{"x":0.787,"y":4.03},{"x":0.801,"y":3.80},{"x":0.812,"y":3.39},{"x":0.826,"y":3.15},{"x":0.837,"y":2.73},{"x":0.851,"y":2.48},{"x":0.862,"y":2.05},{"x":0.876,"y":1.79},{"x":0.887,"y":1.35},{"x":0.901,"y":1.08},{"x":0.912,"y":0.63},{"x":0.926,"y":0.35},{"x":0.937,"y":-0.11},{"x":0.951,"y":-0.40},{"x":0.962,"y":-0.87},{"x":0.976,"y":-1.17},{"x":0.987,"y":-1.65},{"x":0.995,"y":-1.80},{"x":1.000,"y":-2.05}]
},
"columns": 3,
"bounds": "flush",
"spacing": {"row": 39.5, "column": 52.5},
"concat": [
{"width":258,"height":192,
 "layer":[
  {"data":{"name":"r1c1"},"mark":{"type":"circle","size":20,"color":"#1f77b4","opacity":1},
   "encoding":{"x":{"field":"x","type":"quantitative","scale":{"domain":[-0.05,1.05],"nice":false,"zero":false},"axis":{"values":[0,0.5,1],"format":".1f","labels":false,"title":null}},
    "y":{"field":"y","type":"quantitative","scale":{"domain":[-2.34,2.62],"nice":false,"zero":false},"axis":{"values":[-2,0,2],"title":null}}}},
  {"data":{"name":"fit1"},"mark":{"type":"line","color":"#ff0000","strokeWidth":1.2,"interpolate":"monotone"},"encoding":{"x":{"field":"x","type":"quantitative"},"y":{"field":"y","type":"quantitative"}}},
  {"data":{"values":[{"t":"1+1 qubits"}]},"mark":{"type":"text","font":"DejaVu Serif","fontSize":19.5,"align":"left","baseline":"alphabetic","color":"black"},"encoding":{"x":{"datum":0},"y":{"datum":-1.48},"text":{"field":"t"}}},
  {"data":{"values":[{"t":"100 times"}]},"mark":{"type":"text","font":"DejaVu Serif","fontSize":19.5,"align":"left","baseline":"alphabetic","color":"black"},"encoding":{"x":{"datum":0},"y":{"datum":-2.04},"text":{"field":"t"}}}
 ]},
{"width":258,"height":192,
 "layer":[
  {"data":{"name":"r1c2"},"mark":{"type":"circle","size":20,"color":"#1f77b4","opacity":1},
   "encoding":{"x":{"field":"x","type":"quantitative","scale":{"domain":[-0.05,1.05],"nice":false,"zero":false},"axis":{"values":[0,0.5,1],"format":".1f","labels":false,"title":null}},
    "y":{"field":"y","type":"quantitative","scale":{"domain":[-2.34,2.62],"nice":false,"zero":false},"axis":{"values":[-2,0,2],"labels":false,"title":null}}}},
  {"data":{"name":"fit1"},"mark":{"type":"line","color":"#ff0000","strokeWidth":1.2,"interpolate":"monotone"},"encoding":{"x":{"field":"x","type":"quantitative"},"y":{"field":"y","type":"quantitative"}}},
  {"data":{"values":[{"t":"1+1 qubits"}]},"mark":{"type":"text","font":"DejaVu Serif","fontSize":19.5,"align":"left","baseline":"alphabetic","color":"black"},"encoding":{"x":{"datum":0},"y":{"datum":-1.48},"text":{"field":"t"}}},
  {"data":{"values":[{"t":"1000 times"}]},"mark":{"type":"text","font":"DejaVu Serif","fontSize":19.5,"align":"left","baseline":"alphabetic","color":"black"},"encoding":{"x":{"datum":0},"y":{"datum":-2.04},"text":{"field":"t"}}}
 ]},
{"width":258,"height":192,
 "layer":[
  {"data":{"name":"r1c3"},"mark":{"type":"circle","size":20,"color":"#1f77b4","opacity":1},
   "encoding":{"x":{"field":"x","type":"quantitative","scale":{"domain":[-0.05,1.05],"nice":false,"zero":false},"axis":{"values":[0,0.5,1],"format":".1f","labels":false,"title":null}},
    "y":{"field":"y","type":"quantitative","scale":{"domain":[-2.34,2.62],"nice":false,"zero":false},"axis":{"values":[-2,0,2],"labels":false,"title":null}}}},
  {"data":{"name":"fit1"},"mark":{"type":"line","color":"#ff0000","strokeWidth":1.2,"interpolate":"monotone"},"encoding":{"x":{"field":"x","type":"quantitative"},"y":{"field":"y","type":"quantitative"}}},
  {"data":{"values":[{"t":"1+1 qubits"}]},"mark":{"type":"text","font":"DejaVu Serif","fontSize":19.5,"align":"left","baseline":"alphabetic","color":"black"},"encoding":{"x":{"datum":0},"y":{"datum":-1.48},"text":{"field":"t"}}},
  {"data":{"values":[{"t":"10000 times"}]},"mark":{"type":"text","font":"DejaVu Serif","fontSize":19.5,"align":"left","baseline":"alphabetic","color":"black"},"encoding":{"x":{"datum":0},"y":{"datum":-2.04},"text":{"field":"t"}}}
 ]},
{"width":258,"height":192,
 "layer":[
  {"data":{"name":"r2c1"},"mark":{"type":"circle","size":20,"color":"#1f77b4","opacity":1},
   "encoding":{"x":{"field":"x","type":"quantitative","scale":{"domain":[-0.05,1.05],"nice":false,"zero":false},"axis":{"values":[0,0.5,1],"format":".1f","labels":false,"title":null}},
    "y":{"field":"y","type":"quantitative","scale":{"domain":[-2.69,7.18],"nice":false,"zero":false},"axis":{"values":[0,5],"title":"Estimated Bell Expression Value 𝐼𝑑,𝑚","titlePadding":15}}}},
  {"data":{"name":"fit2"},"mark":{"type":"line","color":"#ff0000","strokeWidth":1.2,"interpolate":"monotone"},"encoding":{"x":{"field":"x","type":"quantitative"},"y":{"field":"y","type":"quantitative"}}},
  {"data":{"values":[{"t":"2+2 qubits"}]},"mark":{"type":"text","font":"DejaVu Serif","fontSize":19.5,"align":"left","baseline":"alphabetic","color":"black"},"encoding":{"x":{"datum":0},"y":{"datum":-0.96},"text":{"field":"t"}}},
  {"data":{"values":[{"t":"100 times"}]},"mark":{"type":"text","font":"DejaVu Serif","fontSize":19.5,"align":"left","baseline":"alphabetic","color":"black"},"encoding":{"x":{"datum":0},"y":{"datum":-2.07},"text":{"field":"t"}}}
 ]},
{"width":258,"height":192,
 "layer":[
  {"data":{"name":"r2c2"},"mark":{"type":"circle","size":20,"color":"#1f77b4","opacity":1},
   "encoding":{"x":{"field":"x","type":"quantitative","scale":{"domain":[-0.05,1.05],"nice":false,"zero":false},"axis":{"values":[0,0.5,1],"format":".1f","labels":false,"title":null}},
    "y":{"field":"y","type":"quantitative","scale":{"domain":[-2.69,7.18],"nice":false,"zero":false},"axis":{"values":[0,5],"labels":false,"title":null}}}},
  {"data":{"name":"fit2"},"mark":{"type":"line","color":"#ff0000","strokeWidth":1.2,"interpolate":"monotone"},"encoding":{"x":{"field":"x","type":"quantitative"},"y":{"field":"y","type":"quantitative"}}},
  {"data":{"values":[{"t":"2+2 qubits"}]},"mark":{"type":"text","font":"DejaVu Serif","fontSize":19.5,"align":"left","baseline":"alphabetic","color":"black"},"encoding":{"x":{"datum":0},"y":{"datum":-0.96},"text":{"field":"t"}}},
  {"data":{"values":[{"t":"1000 times"}]},"mark":{"type":"text","font":"DejaVu Serif","fontSize":19.5,"align":"left","baseline":"alphabetic","color":"black"},"encoding":{"x":{"datum":0},"y":{"datum":-2.07},"text":{"field":"t"}}}
 ]},
{"width":258,"height":192,
 "layer":[
  {"data":{"name":"r2c3"},"mark":{"type":"circle","size":20,"color":"#1f77b4","opacity":1},
   "encoding":{"x":{"field":"x","type":"quantitative","scale":{"domain":[-0.05,1.05],"nice":false,"zero":false},"axis":{"values":[0,0.5,1],"format":".1f","labels":false,"title":null}},
    "y":{"field":"y","type":"quantitative","scale":{"domain":[-2.69,7.18],"nice":false,"zero":false},"axis":{"values":[0,5],"labels":false,"title":null}}}},
  {"data":{"name":"fit2"},"mark":{"type":"line","color":"#ff0000","strokeWidth":1.2,"interpolate":"monotone"},"encoding":{"x":{"field":"x","type":"quantitative"},"y":{"field":"y","type":"quantitative"}}},
  {"data":{"values":[{"t":"2+2 qubits"}]},"mark":{"type":"text","font":"DejaVu Serif","fontSize":19.5,"align":"left","baseline":"alphabetic","color":"black"},"encoding":{"x":{"datum":0},"y":{"datum":-0.96},"text":{"field":"t"}}},
  {"data":{"values":[{"t":"10000 times"}]},"mark":{"type":"text","font":"DejaVu Serif","fontSize":19.5,"align":"left","baseline":"alphabetic","color":"black"},"encoding":{"x":{"datum":0},"y":{"datum":-2.07},"text":{"field":"t"}}}
 ]},
{"width":258,"height":192,
 "layer":[
  {"data":{"name":"r3c1"},"mark":{"type":"circle","size":20,"color":"#1f77b4","opacity":1},
   "encoding":{"x":{"field":"x","type":"quantitative","scale":{"domain":[-0.05,1.05],"nice":false,"zero":false},"axis":{"values":[0,0.5,1],"format":".1f","title":null}},
    "y":{"field":"y","type":"quantitative","scale":{"domain":[-3.14,17.16],"nice":false,"zero":false},"axis":{"values":[0,10],"title":null}}}},
  {"data":{"name":"fit3"},"mark":{"type":"line","color":"#ff0000","strokeWidth":1.2,"interpolate":"monotone"},"encoding":{"x":{"field":"x","type":"quantitative"},"y":{"field":"y","type":"quantitative"}}},
  {"data":{"values":[{"t":"3+3 qubits"}]},"mark":{"type":"text","font":"DejaVu Serif","fontSize":19.5,"align":"left","baseline":"alphabetic","color":"black"},"encoding":{"x":{"datum":0},"y":{"datum":0.45},"text":{"field":"t"}}},
  {"data":{"values":[{"t":"100 times"}]},"mark":{"type":"text","font":"DejaVu Serif","fontSize":19.5,"align":"left","baseline":"alphabetic","color":"black"},"encoding":{"x":{"datum":0},"y":{"datum":-1.82},"text":{"field":"t"}}}
 ]},
{"width":258,"height":192,
 "layer":[
  {"data":{"name":"r3c2"},"mark":{"type":"circle","size":20,"color":"#1f77b4","opacity":1},
   "encoding":{"x":{"field":"x","type":"quantitative","scale":{"domain":[-0.05,1.05],"nice":false,"zero":false},"axis":{"values":[0,0.5,1],"format":".1f","title":"Actual Distance 𝐷(𝑈₁, 𝑈₂)","titlePadding":6}},
    "y":{"field":"y","type":"quantitative","scale":{"domain":[-3.14,17.16],"nice":false,"zero":false},"axis":{"values":[0,10],"labels":false,"title":null}}}},
  {"data":{"name":"fit3"},"mark":{"type":"line","color":"#ff0000","strokeWidth":1.2,"interpolate":"monotone"},"encoding":{"x":{"field":"x","type":"quantitative"},"y":{"field":"y","type":"quantitative"}}},
  {"data":{"values":[{"t":"3+3 qubits"}]},"mark":{"type":"text","font":"DejaVu Serif","fontSize":19.5,"align":"left","baseline":"alphabetic","color":"black"},"encoding":{"x":{"datum":0},"y":{"datum":0.45},"text":{"field":"t"}}},
  {"data":{"values":[{"t":"1000 times"}]},"mark":{"type":"text","font":"DejaVu Serif","fontSize":19.5,"align":"left","baseline":"alphabetic","color":"black"},"encoding":{"x":{"datum":0},"y":{"datum":-1.82},"text":{"field":"t"}}}
 ]},
{"width":258,"height":192,
 "layer":[
  {"data":{"name":"r3c3"},"mark":{"type":"circle","size":20,"color":"#1f77b4","opacity":1},
   "encoding":{"x":{"field":"x","type":"quantitative","scale":{"domain":[-0.05,1.05],"nice":false,"zero":false},"axis":{"values":[0,0.5,1],"format":".1f","title":null}},
    "y":{"field":"y","type":"quantitative","scale":{"domain":[-3.14,17.16],"nice":false,"zero":false},"axis":{"values":[0,10],"labels":false,"title":null}}}},
  {"data":{"name":"fit3"},"mark":{"type":"line","color":"#ff0000","strokeWidth":1.2,"interpolate":"monotone"},"encoding":{"x":{"field":"x","type":"quantitative"},"y":{"field":"y","type":"quantitative"}}},
  {"data":{"values":[{"t":"3+3 qubits"}]},"mark":{"type":"text","font":"DejaVu Serif","fontSize":19.5,"align":"left","baseline":"alphabetic","color":"black"},"encoding":{"x":{"datum":0},"y":{"datum":0.45},"text":{"field":"t"}}},
  {"data":{"values":[{"t":"10000 times"}]},"mark":{"type":"text","font":"DejaVu Serif","fontSize":19.5,"align":"left","baseline":"alphabetic","color":"black"},"encoding":{"x":{"datum":0},"y":{"datum":-1.82},"text":{"field":"t"}}}
 ]}
]
}
